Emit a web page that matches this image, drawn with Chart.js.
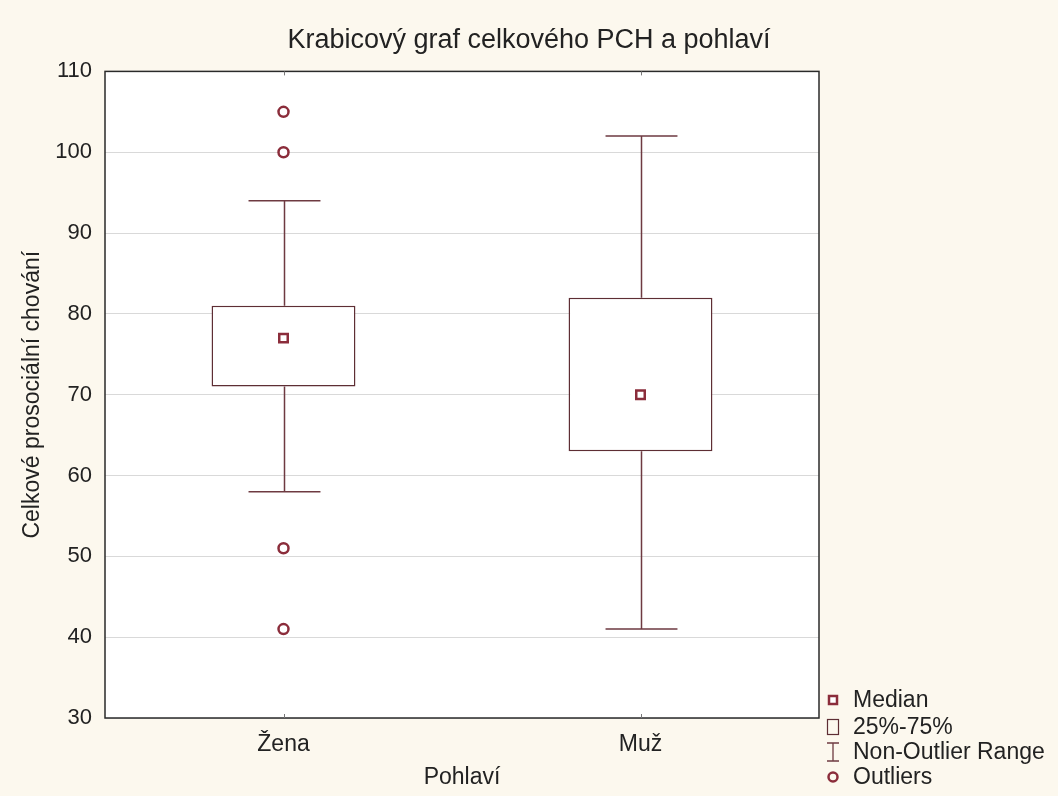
<!DOCTYPE html>
<html>
<head>
<meta charset="utf-8">
<script src="https://cdn.jsdelivr.net/npm/chart.js@4"></script>
<style>
  body { margin: 0; background: #fcf8ee; }
  canvas { display: block; }
</style>
</head>
<body>
<canvas id="myChart" width="1058" height="796"></canvas>
<script>
// DATA
const categories = ["Žena", "Muž"];
const q1 = [71, 63];
const q3 = [81, 82];
const medians = [77, 70];
const whiskerLow = [58, 41];
const whiskerHigh = [94, 102];
const outliers = [[105, 100, 51, 41], []];
const yMin = 30, yMax = 110, yStep = 10;
const legendLabels = ["Median", "25%-75%", "Non-Outlier Range", "Outliers"];

const boxColor = "#5e2e34";
const whiskerColor = "#6e3a41";
const markColor = "#8b2d3b";
const textColor = "#222222";
const fontFamily = "'Liberation Sans', Arial, sans-serif";

// outlier points as {x, y} on the category axis
const outlierPoints = [];
for (let i = 0; i < categories.length; i++) {
  for (let j = 0; j < outliers[i].length; j++) {
    outlierPoints.push({ x: categories[i], y: outliers[i][j] });
  }
}

const backgroundPlugin = {
  id: "bg",
  beforeDraw(chart) {
    const { ctx, chartArea } = chart;
    ctx.save();
    ctx.fillStyle = "#fcf8ee";
    ctx.fillRect(0, 0, chart.width, chart.height);
    ctx.fillStyle = "#ffffff";
    ctx.fillRect(chartArea.left, chartArea.top, chartArea.right - chartArea.left, chartArea.bottom - chartArea.top);
    ctx.restore();
  },
};

const whiskerPlugin = {
  id: "whiskers",
  beforeDatasetsDraw(chart) {
    //DRAW THE NON-OUTLIER RANGE LINES AND CAPS
    const ctx = chart.ctx;
    const x = chart.scales.x, y = chart.scales.y;
    const bars = chart.getDatasetMeta(0).data;
    ctx.save();
    ctx.strokeStyle = whiskerColor;
    ctx.lineWidth = 1.5;
    for (let i = 0; i < categories.length; i++) {
      const cx = Math.round(x.getPixelForValue(i)) + 0.5;
      const half = bars[i].width / 4;
      const yLo = y.getPixelForValue(whiskerLow[i]);
      const yHi = y.getPixelForValue(whiskerHigh[i]);
      ctx.beginPath();
      ctx.moveTo(cx, yHi);
      ctx.lineTo(cx, y.getPixelForValue(q3[i]));
      ctx.moveTo(cx, y.getPixelForValue(q1[i]));
      ctx.lineTo(cx, yLo);
      ctx.moveTo(cx - half, yHi);
      ctx.lineTo(cx + half, yHi);
      ctx.moveTo(cx - half, yLo);
      ctx.lineTo(cx + half, yLo);
      ctx.stroke();
    }
    ctx.restore();
  },
  afterDatasetsDraw(chart) {
    //FRAME AROUND THE PLOT AND SMALL CATEGORY TICKS
    const { ctx, chartArea } = chart;
    const x = chart.scales.x;
    ctx.save();
    ctx.strokeStyle = "#2a2a2a";
    ctx.lineWidth = 1.5;
    ctx.strokeRect(chartArea.left, chartArea.top, chartArea.right - chartArea.left, chartArea.bottom - chartArea.top);
    ctx.lineWidth = 1;
    ctx.strokeStyle = "#777";
    for (let i = 0; i < categories.length; i++) {
      const cx = Math.round(x.getPixelForValue(i)) + 0.5;
      ctx.beginPath();
      ctx.moveTo(cx, chartArea.bottom);
      ctx.lineTo(cx, chartArea.bottom - 4);
      ctx.moveTo(cx, chartArea.top);
      ctx.lineTo(cx, chartArea.top + 4);
      ctx.stroke();
    }
    ctx.restore();
  },
};

const legendPlugin = {
  id: "boxLegend",
  afterDraw(chart) {
    //CUSTOM LEGEND IN THE BOTTOM RIGHT CORNER
    const ctx = chart.ctx;
    const mx = 833, tx = 853;
    const rows = [700, 727, 752, 777];
    ctx.save();
    ctx.font = "23px " + fontFamily;
    ctx.fillStyle = textColor;
    ctx.textBaseline = "middle";
    for (let i = 0; i < legendLabels.length; i++) {
      ctx.fillText(legendLabels[i], tx, rows[i] + 1);
    }
    // median symbol
    ctx.strokeStyle = markColor;
    ctx.lineWidth = 2.5;
    ctx.fillStyle = "#fff";
    ctx.fillRect(mx - 4, rows[0] - 4, 8, 8);
    ctx.strokeRect(mx - 4, rows[0] - 4, 8, 8);
    // box symbol
    ctx.strokeStyle = boxColor;
    ctx.lineWidth = 1.2;
    ctx.strokeRect(mx - 5.5, rows[1] - 7.5, 11, 15);
    // whisker symbol
    ctx.strokeStyle = whiskerColor;
    ctx.lineWidth = 1.3;
    ctx.beginPath();
    ctx.moveTo(mx - 6, rows[2] - 9);
    ctx.lineTo(mx + 6, rows[2] - 9);
    ctx.moveTo(mx, rows[2] - 9);
    ctx.lineTo(mx, rows[2] + 9);
    ctx.moveTo(mx - 6, rows[2] + 9);
    ctx.lineTo(mx + 6, rows[2] + 9);
    ctx.stroke();
    // outlier symbol
    ctx.strokeStyle = markColor;
    ctx.lineWidth = 2.5;
    ctx.beginPath();
    ctx.arc(mx, rows[3], 4.5, 0, Math.PI * 2);
    ctx.stroke();
    ctx.restore();
  },
};

const data = {
  labels: categories,
  datasets: [
    {
      type: "bar",
      label: "25%-75%",
      data: categories.map((c, i) => [q1[i], q3[i]]),
      backgroundColor: "#ffffff",
      borderColor: boxColor,
      borderWidth: 1.5,
      borderSkipped: false,
      barPercentage: 0.403,
      categoryPercentage: 1,
      order: 3,
    },
    {
      type: "line",
      label: "Median",
      data: medians,
      showLine: false,
      pointStyle: "rect",
      pointRadius: 6,
      pointBorderWidth: 2.5,
      pointBorderColor: markColor,
      pointBackgroundColor: "#ffffff",
      order: 1,
    },
    {
      type: "line",
      label: "Outliers",
      data: outlierPoints,
      showLine: false,
      pointStyle: "circle",
      pointRadius: 5,
      pointBorderWidth: 2.5,
      pointBorderColor: markColor,
      pointBackgroundColor: "#ffffff",
      order: 2,
    },
  ],
};

const config = {
  type: "bar",
  data: data,
  options: {
    responsive: false,
    animation: false,
    layout: { padding: 0 },
    plugins: {
      legend: { display: false },
      tooltip: { enabled: false },
      title: {
        display: true,
        text: "Krabicový graf celkového PCH a pohlaví",
        color: textColor,
        font: { family: fontFamily, size: 27, weight: "normal" },
        padding: { top: 24, bottom: 15 },
      },
    },
    scales: {
      x: {
        offset: true,
        grid: { display: false, drawTicks: false },
        border: { display: false },
        ticks: { color: textColor, font: { family: fontFamily, size: 23 }, padding: 13 },
        title: {
          display: true,
          text: "Pohlaví",
          color: textColor,
          font: { family: fontFamily, size: 23 },
          padding: { top: 2, bottom: 5 },
        },
        afterFit(scale) { scale.height = 78; },
      },
      y: {
        min: yMin,
        max: yMax,
        grid: { color: "#d9d9d9", lineWidth: 1, drawTicks: false },
        border: { display: false },
        ticks: { stepSize: yStep, color: textColor, font: { family: fontFamily, size: 22 }, padding: 13 },
        title: {
          display: true,
          text: "Celkové prosociální chování",
          color: textColor,
          font: { family: fontFamily, size: 23 },
          padding: { top: 19, bottom: 4 },
        },
        afterFit(scale) { scale.width = 105; },
      },
      // empty right axis that keeps room for the legend
      yRight: {
        position: "right",
        display: true,
        grid: { display: false, drawTicks: false },
        border: { display: false },
        ticks: { display: false },
        afterFit(scale) { scale.width = 239; },
      },
    },
  },
  plugins: [backgroundPlugin, whiskerPlugin, legendPlugin],
};

const myChart = new Chart(document.getElementById("myChart"), config);
</script>
</body>
</html>
